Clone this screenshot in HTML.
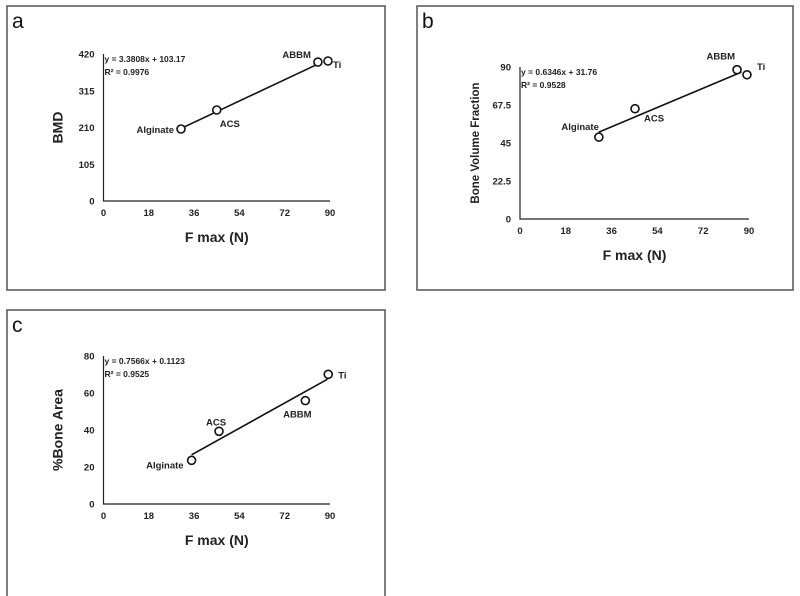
<!DOCTYPE html>
<html><head><meta charset="utf-8"><style>
html,body{margin:0;padding:0;background:#fff;}
svg{display:block;font-family:"Liberation Sans",Arial,sans-serif;}
</style></head><body>
<svg id="fig" width="800" height="596" viewBox="0 0 800 596"></svg>
<script>
// Panel a data
const aLabels = ["Alginate","ACS","ABBM","Ti"];
const aX = [30.8, 45, 85.2, 89.2];
const aY = [205.7, 260, 397, 400];
const aYTicks = ["0","105","210","315","420"];
// Panel b data
const bLabels = ["Alginate","ACS","ABBM","Ti"];
const bX = [31, 45.2, 85.3, 89.2];
const bY = [48.5, 65.3, 88.4, 85.4];
const bYTicks = ["0","22.5","45","67.5","90"];
// Panel c data
const cLabels = ["Alginate","ACS","ABBM","Ti"];
const cX = [35, 45.9, 80.2, 89.3];
const cY = [23.6, 39.3, 55.9, 70.1];
const cYTicks = ["0","20","40","60","80"];
const xTicks = ["0","18","36","54","72","90"];

const NS="http://www.w3.org/2000/svg";
const svg=document.getElementById('fig');
function mk(tag,attrs,parent,text){const e=document.createElementNS(NS,tag);for(const k in attrs)e.setAttribute(k,attrs[k]);if(text!==undefined)e.textContent=text;(parent||svg).appendChild(e);return e;}

function panel(o){
  const g=mk('g',{});
  
  
  const fr=mk('path',{d:o.frame,fill:'none',stroke:'#555','stroke-width':1.5},g);
  
  
  const lt=mk('text',{x:o.bx+5,y:o.by+22,'font-size':21,fill:'#111'},g,o.letter);
  
  
  const xs=v=>o.x0+(v/90)*(o.x1-o.x0);
  const ymax=parseFloat(o.yt[o.yt.length-1]);
  const ys=v=>o.y0-(v/ymax)*(o.y0-o.y1);
  const ax=mk('path',{d:`M${o.x0},${o.y1} V${o.y0} H${o.x1}`,fill:'none',stroke:'#222','stroke-width':1.2},g);
  
  
  o.yt.forEach(t=>{const e=mk('text',{x:o.x0-9,y:ys(parseFloat(t))+3.5,'font-size':9.5,'font-weight':'bold','text-anchor':'end',fill:'#222'},g,t);
    
    });
  xTicks.forEach(t=>{const e=mk('text',{x:xs(parseFloat(t)),y:o.y0+15,'font-size':9.5,'font-weight':'bold','text-anchor':'middle',fill:'#222'},g,t);
    
    });
  const xt=mk('text',{x:(o.x0+o.x1)/2,y:o.y0+41,'font-size':14,'font-weight':'bold','text-anchor':'middle',fill:'#222'},g,'F max (N)');
  
  
  const yx=o.x0-41, yy=(o.y0+o.y1)/2;
  const yt=mk('text',{x:yx,y:yy,'font-size':o.ytSize,'font-weight':'bold','text-anchor':'middle',fill:'#222',transform:`rotate(-90 ${yx} ${yy})`},g,o.ytitle);
  
  
  // trendline
  const xmin=Math.min(...o.X), xmax=o.tEnd;
  const tl=mk('line',{x1:xs(xmin),y1:ys(o.m*xmin+o.b),x2:xs(xmax),y2:ys(o.m*xmax+o.b),stroke:'#111','stroke-width':1.6},g);
  
  
  const e1=mk('text',{x:o.x0+1,y:o.y1+8,'font-size':8.5,'font-weight':'bold',fill:'#222'},g,o.eq);
  
  
  const e2=mk('text',{x:o.x0+1,y:o.y1+21,'font-size':8.5,'font-weight':'bold',fill:'#222'},g,o.r2);
  
  
  o.X.forEach((xv,i)=>{
    const c=mk('circle',{cx:xs(xv),cy:ys(o.Y[i]),r:4,fill:'#fff',stroke:'#111','stroke-width':1.6},g);
    
    
    const off=o.off[i];
    const t=mk('text',{x:xs(xv)+off[0],y:ys(o.Y[i])+off[1],'font-size':9.5,'font-weight':'bold','text-anchor':off[2],fill:'#222'},g,o.L[i]);
    
    
  });
}
panel({id:'a',letter:'a',bx:7,by:6,frame:'M7,6 H385 V290 H7 Z',x0:103.5,x1:330,y0:201,y1:54,yt:aYTicks,X:aX,Y:aY,L:aLabels,
  ytitle:'BMD',ytSize:14,m:3.3808,b:103.17,tEnd:85.2,eq:'y = 3.3808x + 103.17',r2:'R² = 0.9976',
  off:[[-7,4,'end'],[3,17,'start'],[-7,-4,'end'],[5,7,'start']]});
panel({id:'b',letter:'b',bx:417,by:6,frame:'M417,6 H793 V290 H417 Z',x0:520,x1:749,y0:219,y1:67,yt:bYTicks,X:bX,Y:bY,L:bLabels,
  ytitle:'Bone Volume Fraction',ytSize:11.5,m:0.6346,b:31.76,tEnd:87,eq:'y = 0.6346x + 31.76',r2:'R² = 0.9528',
  off:[[0,-7,'end'],[9,13,'start'],[-2,-10,'end'],[10,-5,'start']]});
panel({id:'c',letter:'c',bx:7,by:310,frame:'M7,597 V310 H385 V597',x0:103.5,x1:330,y0:504,y1:356,yt:cYTicks,X:cX,Y:cY,L:cLabels,
  ytitle:'%Bone Area',ytSize:14,m:0.7566,b:0.1123,tEnd:89,eq:'y = 0.7566x + 0.1123',r2:'R² = 0.9525',
  off:[[-8,8,'end'],[-3,-6,'middle'],[-8,17,'middle'],[10,4,'start']]});
</script>
</body></html>
